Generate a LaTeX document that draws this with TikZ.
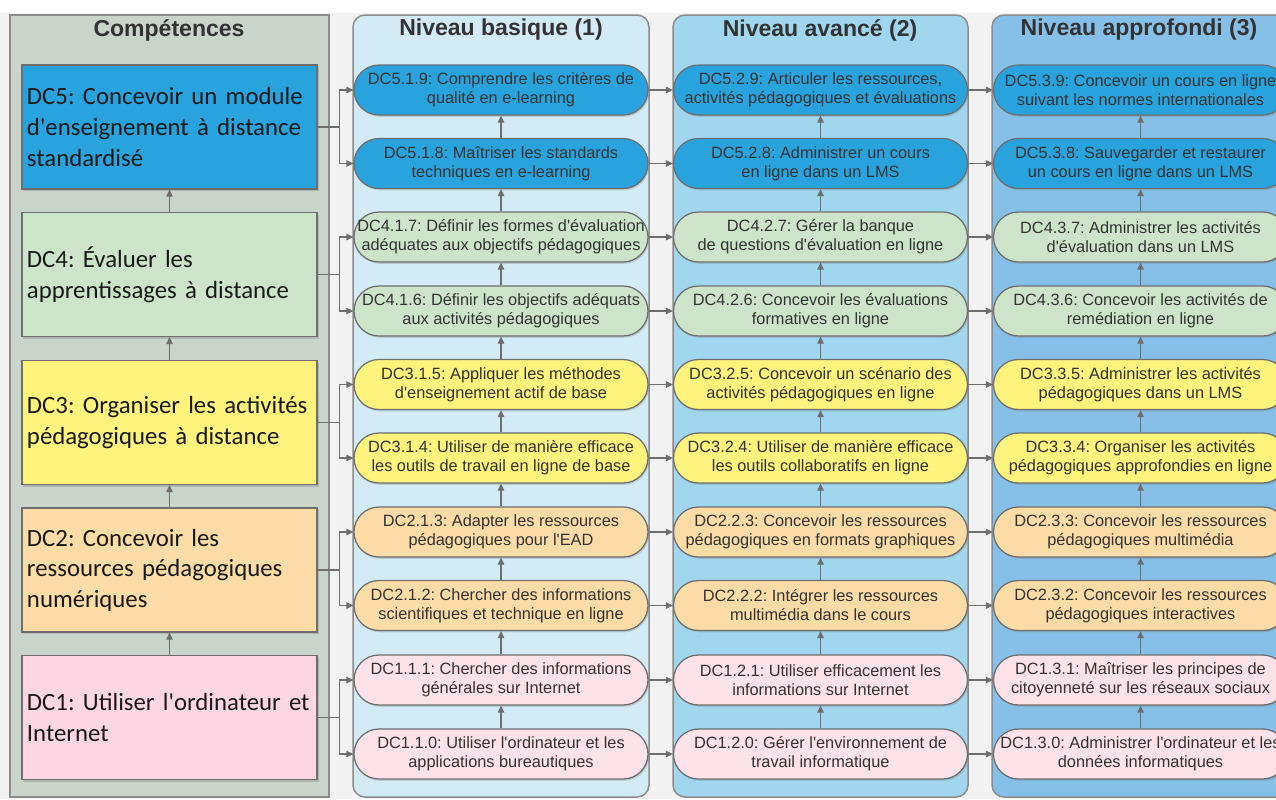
\documentclass[tikz,border=0pt]{standalone}
\usepackage{fontspec}
\usepackage{tikz}
\usepackage{xcolor}
\usetikzlibrary{arrows.meta,shadows}
\setmainfont{Liberation Sans}[Ligatures=TeXOff]
\newfontfamily\calibfont{Carlito}
\frenchspacing

\definecolor{pagegray}{HTML}{F2F2F2}
\definecolor{panelgray}{HTML}{C9D4CB}
\definecolor{panelone}{HTML}{D2EBF6}
\definecolor{paneltwo}{HTML}{A0D7EE}
\definecolor{panelthree}{HTML}{86C0E8}
\definecolor{dcblue}{HTML}{29A3DD}
\definecolor{dcgreen}{HTML}{CCE5CA}
\definecolor{dcyellow}{HTML}{FDF37D}
\definecolor{dcorange}{HTML}{FCDCA6}
\definecolor{dcpink}{HTML}{FDD6E4}
\definecolor{dcpinklight}{HTML}{FDE2E9}
\definecolor{edgegray}{HTML}{6E6E6E}
\definecolor{inkgray}{HTML}{333333}

\begin{document}
\begin{tikzpicture}[x=0.2mm, y=-0.2mm,
		panel/.style={draw=gray!90, line width=0.3mm},
		heading/.style={font=\bfseries\fontsize{13.1}{15}\selectfont, text=inkgray},
		skill/.style={draw=edgegray, line width=0.25mm, rounded corners=5mm, minimum width=58.8mm, minimum height=10mm, inner sep=0pt, align=center, text=inkgray, font=\fontsize{9.3}{10.8}\selectfont, drop shadow={shadow xshift=0.25mm, shadow yshift=-0.35mm, opacity=0.3}},
		comp/.style={draw=edgegray, line width=0.25mm, minimum width=59mm, minimum height=24.8mm, text width=57mm, inner sep=1mm, align=left, text=black!90, font=\calibfont\fontsize{14.1}{17.4}\selectfont, drop shadow={shadow xshift=0.3mm, shadow yshift=-0.4mm, opacity=0.35}},
		link/.style={draw=edgegray, line width=0.25mm, -{Triangle[length=1.4mm,width=1.3mm]}}
	]
		\useasboundingbox (0,0) rectangle (1276,799);
		\fill[pagegray] (0,13) rectangle (1276,799);

		\draw[panel, fill=panelgray] (10,15) rectangle (329,797);
		\draw[panel, fill=panelone, rounded corners=2.4mm] (353,15) rectangle (649,797);
		\draw[panel, fill=paneltwo, rounded corners=2.4mm] (673,15) rectangle (968,797);
		\draw[panel, fill=panelthree, rounded corners=2.4mm] (992,15) rectangle (1300,797);

		\node[heading] (tcomp) at (169,30) {Compétences};
		\node[heading] (tbas) at (501,30) {Niveau basique (1)};
		\node[heading] (tava) at (820,30) {Niveau avancé (2)};
		\node[heading] (tapp) at (1139,30) {Niveau approfondi (3)};

		\node[comp, fill=dcblue] (dc5) at (169.5,127) {DC5: Concevoir un module\\d'enseignement à distance\\standardisé};
		\node[comp, fill=dcgreen] (dc4) at (169.5,274.5) {DC4: Évaluer les\\apprentissages à distance};
		\node[comp, fill=dcyellow] (dc3) at (169.5,422.5) {DC3: Organiser les activités\\pédagogiques à distance};
		\node[comp, fill=dcorange] (dc2) at (169.5,570) {DC2: Concevoir les\\ressources pédagogiques\\numériques};
		\node[comp, fill=dcpink] (dc1) at (169.5,717.5) {DC1: Utiliser l'ordinateur et\\Internet};

		\node[skill, fill=dcblue] (s519) at (501,90) {DC5.1.9: Comprendre les critères de\\qualité en e-learning};
		\node[skill, fill=dcblue] (s518) at (501,163.5) {DC5.1.8: Maîtriser les standards\\techniques en e-learning};
		\node[skill, fill=dcgreen] (s417) at (501,237) {DC4.1.7: Définir les formes d'évaluation\\adéquates aux objectifs pédagogiques};
		\node[skill, fill=dcgreen] (s416) at (501,311) {DC4.1.6: Définir les objectifs adéquats\\aux activités pédagogiques};
		\node[skill, fill=dcyellow] (s315) at (501,384.5) {DC3.1.5: Appliquer les méthodes\\d'enseignement actif de base};
		\node[skill, fill=dcyellow] (s314) at (501,458) {DC3.1.4: Utiliser de manière efficace\\les outils de travail en ligne de base};
		\node[skill, fill=dcorange] (s213) at (501,532) {DC2.1.3: Adapter les ressources\\pédagogiques pour l'EAD};
		\node[skill, fill=dcorange] (s212) at (501,605.5) {DC2.1.2: Chercher des informations\\scientifiques et technique en ligne};
		\node[skill, fill=dcpinklight] (s111) at (501,680) {DC1.1.1: Chercher des informations\\générales sur Internet};
		\node[skill, fill=dcpinklight] (s110) at (501,754) {DC1.1.0: Utiliser l'ordinateur et les\\applications bureautiques};

		\node[skill, fill=dcblue] (s529) at (820.5,90) {DC5.2.9: Articuler les ressources,\\activités pédagogiques et évaluations};
		\node[skill, fill=dcblue] (s528) at (820.5,163.5) {DC5.2.8: Administrer un cours\\en ligne dans un LMS};
		\node[skill, fill=dcgreen] (s427) at (820.5,237) {DC4.2.7: Gérer la banque\\de questions d'évaluation en ligne};
		\node[skill, fill=dcgreen] (s426) at (820.5,311) {DC4.2.6: Concevoir les évaluations\\formatives en ligne};
		\node[skill, fill=dcyellow] (s325) at (820.5,384.5) {DC3.2.5: Concevoir un scénario des\\activités pédagogiques en ligne};
		\node[skill, fill=dcyellow] (s324) at (820.5,458) {DC3.2.4: Utiliser de manière efficace\\les outils collaboratifs en ligne};
		\node[skill, fill=dcorange] (s223) at (820.5,532) {DC2.2.3: Concevoir les ressources\\pédagogiques en formats graphiques};
		\node[skill, fill=dcorange] (s222) at (820.5,605.5) {DC2.2.2: Intégrer les ressources\\multimédia dans le cours};
		\node[skill, fill=dcpinklight] (s121) at (820.5,680) {DC1.2.1: Utiliser efficacement les\\informations sur Internet};
		\node[skill, fill=dcpinklight] (s120) at (820.5,754) {DC1.2.0: Gérer l'environnement de\\travail informatique};

		\node[skill, fill=dcblue] (s539) at (1140.5,90) {DC5.3.9: Concevoir un cours en ligne\\suivant les normes internationales};
		\node[skill, fill=dcblue] (s538) at (1140.5,163.5) {DC5.3.8: Sauvegarder et restaurer\\un cours en ligne dans un LMS};
		\node[skill, fill=dcgreen] (s437) at (1140.5,237) {DC4.3.7: Administrer les activités\\d'évaluation dans un LMS};
		\node[skill, fill=dcgreen] (s436) at (1140.5,311) {DC4.3.6: Concevoir les activités de\\remédiation en ligne};
		\node[skill, fill=dcyellow] (s335) at (1140.5,384.5) {DC3.3.5: Administrer les activités\\pédagogiques dans un LMS};
		\node[skill, fill=dcyellow] (s334) at (1140.5,458) {DC3.3.4: Organiser les activités\\pédagogiques approfondies en ligne};
		\node[skill, fill=dcorange] (s233) at (1140.5,532) {DC2.3.3: Concevoir les ressources\\pédagogiques multimédia};
		\node[skill, fill=dcorange] (s232) at (1140.5,605.5) {DC2.3.2: Concevoir les ressources\\pédagogiques interactives};
		\node[skill, fill=dcpinklight] (s131) at (1140.5,680) {DC1.3.1: Maîtriser les principes de\\citoyenneté sur les réseaux sociaux};
		\node[skill, fill=dcpinklight] (s130) at (1140.5,754) {DC1.3.0: Administrer l'ordinateur et les\\données informatiques};

		\draw[link] (dc4) -- (dc5);
		\draw[link] (dc3) -- (dc4);
		\draw[link] (dc2) -- (dc3);
		\draw[link] (dc1) -- (dc2);

		\draw[link] (dc5.east) -- ++(22,0) |- (s519.west);
		\draw[link] (dc5.east) -- ++(22,0) |- (s518.west);
		\draw[link] (dc4.east) -- ++(22,0) |- (s417.west);
		\draw[link] (dc4.east) -- ++(22,0) |- (s416.west);
		\draw[link] (dc3.east) -- ++(22,0) |- (s315.west);
		\draw[link] (dc3.east) -- ++(22,0) |- (s314.west);
		\draw[link] (dc2.east) -- ++(22,0) |- (s213.west);
		\draw[link] (dc2.east) -- ++(22,0) |- (s212.west);
		\draw[link] (dc1.east) -- ++(22,0) |- (s111.west);
		\draw[link] (dc1.east) -- ++(22,0) |- (s110.west);

		\draw[link] (s519) -- (s529);  \draw[link] (s529) -- (s539);
		\draw[link] (s518) -- (s528);  \draw[link] (s528) -- (s538);
		\draw[link] (s417) -- (s427);  \draw[link] (s427) -- (s437);
		\draw[link] (s416) -- (s426);  \draw[link] (s426) -- (s436);
		\draw[link] (s315) -- (s325);  \draw[link] (s325) -- (s335);
		\draw[link] (s314) -- (s324);  \draw[link] (s324) -- (s334);
		\draw[link] (s213) -- (s223);  \draw[link] (s223) -- (s233);
		\draw[link] (s212) -- (s222);  \draw[link] (s222) -- (s232);
		\draw[link] (s111) -- (s121);  \draw[link] (s121) -- (s131);
		\draw[link] (s110) -- (s120);  \draw[link] (s120) -- (s130);

		\draw[link] (s518) -- (s519);  \draw[link] (s528) -- (s529);  \draw[link] (s538) -- (s539);
		\draw[link] (s417) -- (s518);  \draw[link] (s427) -- (s528);  \draw[link] (s437) -- (s538);
		\draw[link] (s416) -- (s417);  \draw[link] (s426) -- (s427);  \draw[link] (s436) -- (s437);
		\draw[link] (s315) -- (s416);  \draw[link] (s325) -- (s426);  \draw[link] (s335) -- (s436);
		\draw[link] (s314) -- (s315);  \draw[link] (s324) -- (s325);  \draw[link] (s334) -- (s335);
		\draw[link] (s213) -- (s314);  \draw[link] (s223) -- (s324);  \draw[link] (s233) -- (s334);
		\draw[link] (s212) -- (s213);  \draw[link] (s222) -- (s223);  \draw[link] (s232) -- (s233);
		\draw[link] (s111) -- (s212);  \draw[link] (s121) -- (s222);  \draw[link] (s131) -- (s232);
		\draw[link] (s110) -- (s111);  \draw[link] (s120) -- (s121);  \draw[link] (s130) -- (s131);

	\end{tikzpicture}
\end{document}
